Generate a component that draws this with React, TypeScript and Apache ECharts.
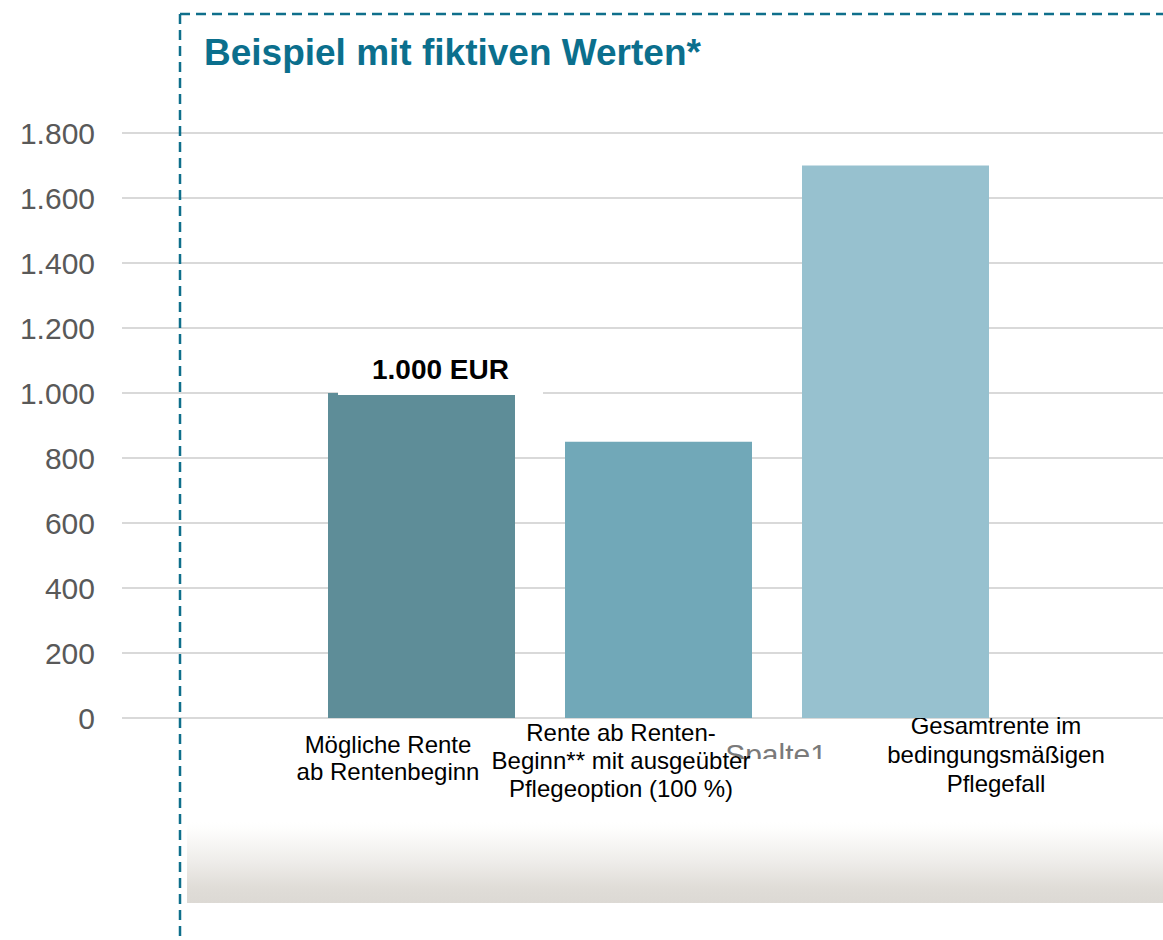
import React, { useEffect, useRef } from "react";
import * as echarts from "echarts";

const titleText = "Beispiel mit fiktiven Werten*";
const seriesName = "Spalte1";
const categories = [
  "Mögliche Rente\nab Rentenbeginn",
  "Rente ab Renten-\nBeginn** mit ausgeübter\nPflegeoption (100 %)",
  "Gesamtrente im\nbedingungsmäßigen\nPflegefall",
];
const values = [1000, 850, 1700];
const labelledBars = [true, false, false];
const labelUnit = "EUR";
const barColors = ["#5e8d98", "#71a8b8", "#97c1cf"];
const yMin = 0;
const yMax = 1800;
const yStep = 200;

const FONT = "'Liberation Sans', Arial, Helvetica, sans-serif";

function fmt(v: number): string {
  return String(v).replace(/\B(?=(\d{3})+(?!\d))/g, ".");
}

export default function App() {
  const ref = useRef<HTMLDivElement>(null);

  useEffect(() => {
    if (!ref.current) return;
    const chart = echarts.init(ref.current, undefined, { renderer: "svg" });

    const option: any = {
      animation: false,
      backgroundColor: "#ffffff",
      textStyle: { fontFamily: FONT },
      title: {
        text: titleText,
        left: 204,
        top: 34,
        padding: 0,
        textStyle: {
          fontFamily: FONT,
          fontSize: 37,
          fontWeight: "bold",
          color: "#0b6f8d",
        },
      },
      grid: [
        { left: 122, right: 0, top: 133, bottom: 222 },
        { left: 303, right: 149, top: 133, bottom: 222 },
      ],
      xAxis: [
        { gridIndex: 0, type: "category", data: categories, show: false },
        {
          gridIndex: 1,
          type: "category",
          data: categories,
          axisLine: { show: false },
          axisTick: { show: false },
          axisLabel: {
            interval: 0,
            margin: 0,
            color: "#000000",
            fontFamily: FONT,
            fontSize: 24,
            formatter: (value: string, index: number) =>
              value
                .split("\n")
                .map((l) => `{c${index}|${l}}`)
                .join("\n"),
            rich: {
              c0: { fontFamily: FONT, fontSize: 24, color: "#000", lineHeight: 27, padding: [25, 67, 0, 0] },
              c1: { fontFamily: FONT, fontSize: 24, color: "#000", lineHeight: 28, padding: [0, 75, 0, 0] },
              c2: { fontFamily: FONT, fontSize: 24, color: "#000", lineHeight: 29, padding: [0, 0, 15, 201] },
            },
          },
        },
      ],
      yAxis: [
        {
          gridIndex: 0,
          type: "value",
          min: yMin,
          max: yMax,
          interval: yStep,
          axisLine: { show: false },
          axisTick: { show: false },
          splitLine: { lineStyle: { color: "#d9d9d9", width: 2 } },
          axisLabel: {
            margin: 27,
            fontSize: 30,
            fontFamily: FONT,
            color: "#595959",
            formatter: (v: number) => fmt(v),
          },
        },
        {
          gridIndex: 1,
          type: "value",
          min: yMin,
          max: yMax,
          interval: yStep,
          show: false,
          splitLine: { show: false },
        },
      ],
      series: [
        {
          type: "bar",
          name: seriesName,
          xAxisIndex: 1,
          yAxisIndex: 1,
          barWidth: 187,
          data: values.map((v, i) => ({
            value: v,
            itemStyle: { color: barColors[i] },
            label: { show: labelledBars[i] },
          })),
          label: {
            position: "top",
            distance: 0,
            offset: [19, 2],
            formatter: (p: any) => `${fmt(p.value)} ${labelUnit}`,
            fontFamily: FONT,
            fontSize: 28,
            fontWeight: "bold",
            color: "#000000",
            backgroundColor: "#ffffff",
            padding: [8, 34, 11, 34],
            lineHeight: 30,
          },
        },
      ],
      graphic: [
        {
          type: "rect",
          z: -5,
          shape: { x: 187, y: 822, width: 976, height: 81 },
          style: {
            fill: new echarts.graphic.LinearGradient(0, 0, 0, 1, [
              { offset: 0, color: "#ffffff" },
              { offset: 0.1, color: "#fdfdfc" },
              { offset: 0.5, color: "#eeece9" },
              { offset: 0.8, color: "#e0ddd8" },
              { offset: 1, color: "#dcd9d4" },
            ]),
          },
        },
        {
          type: "text",
          z: -3,
          x: 776,
          y: 754,
          style: {
            text: seriesName,
            fontFamily: FONT,
            fontSize: 30,
            fill: "#7a7a7a",
            align: "center",
            verticalAlign: "middle",
          },
        },
        {
          type: "rect",
          z: -2,
          shape: { x: 690, y: 759, width: 185, height: 50 },
          style: { fill: "#ffffff" },
        },
        {
          type: "line",
          z: 100,
          shape: { x1: 180, y1: 14, x2: 180, y2: 940 },
          style: { stroke: "#0f6f8b", lineWidth: 2.5, lineDash: [10, 6] },
        },
        {
          type: "line",
          z: 100,
          shape: { x1: 180, y1: 14, x2: 1163, y2: 14 },
          style: { stroke: "#0f6f8b", lineWidth: 2.5, lineDash: [10, 6] },
        },
      ],
    };

    chart.setOption(option);
    return () => chart.dispose();
  }, []);

  return (
    <div
      ref={ref}
      style={{ position: "fixed", left: 0, top: 0, width: 1163, height: 940, background: "#ffffff" }}
    />
  );
}
